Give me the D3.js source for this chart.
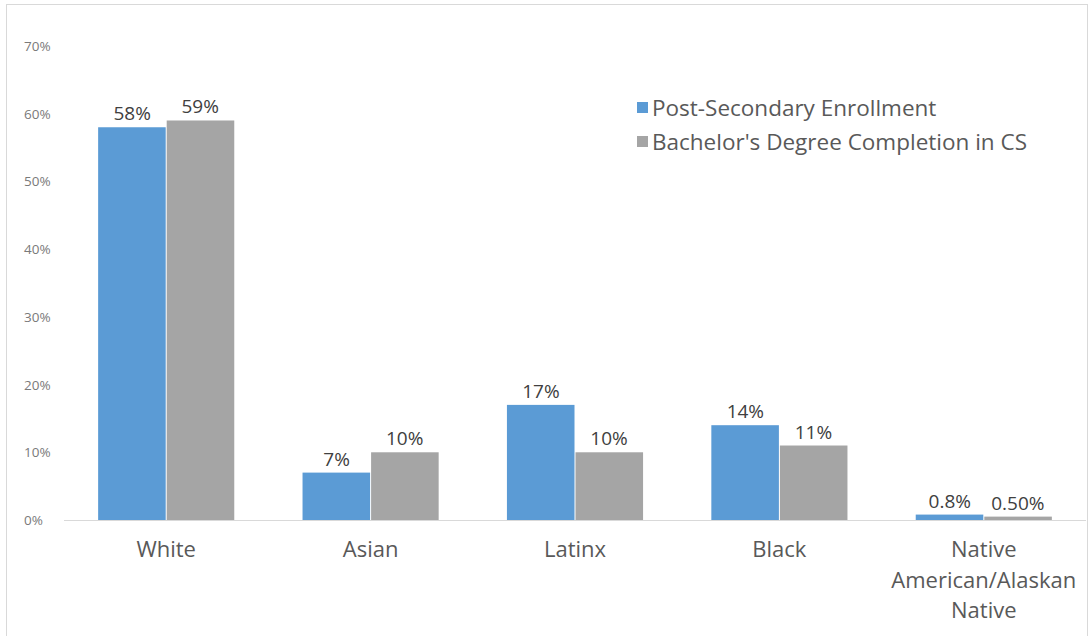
<!DOCTYPE html>
<html>
<head>
<meta charset="utf-8">
<script src="https://cdn.jsdelivr.net/npm/d3@7"></script>
<style>
  html, body { margin: 0; padding: 0; background: #fff; }
  svg { display: block; }
  text { font-family: "Open Sans", "Noto Sans", sans-serif; }
</style>
</head>
<body>
<svg id="chart" width="1090" height="636"></svg>
<script>
// Share of students by race/ethnicity
const categories = ["White", "Asian", "Latinx", "Black", "Native American/Alaskan Native"];
const categoryLines = [["White"], ["Asian"], ["Latinx"], ["Black"], ["Native", "American/Alaskan", "Native"]];
const seriesNames = ["Post-Secondary Enrollment", "Bachelor's Degree Completion in CS"];
const enrollment = [58, 7, 17, 14, 0.8];
const completion = [59, 10, 10, 11, 0.5];
const enrollmentLabels = ["58%", "7%", "17%", "14%", "0.8%"];
const completionLabels = ["59%", "10%", "10%", "11%", "0.50%"];
const yTicks = [0, 10, 20, 30, 40, 50, 60, 70];
const colors = ["#5b9bd5", "#a5a5a5"];

const svg = d3.select("#chart");

// outer frame
svg.append("rect")
  .attr("x", 6.5).attr("y", 4.5)
  .attr("width", 1081).attr("height", 640)
  .attr("fill", "#fff").attr("stroke", "#d9d9d9").attr("stroke-width", 1);

const plot = { left: 64, right: 1086, top: 46, bottom: 520 };

const x0 = d3.scaleBand().domain(categories)
  .range([plot.left, plot.right]).paddingInner(0.334).paddingOuter(0.167);
const x1 = d3.scaleBand().domain([0, 1]).range([0, x0.bandwidth()]).padding(0);
const y = d3.scaleLinear().domain([0, 70]).range([plot.bottom, plot.top]);

// y tick labels (no gridlines)
svg.append("g").selectAll("text").data(yTicks).join("text")
  .attr("x", 24).attr("y", d => y(d) + 5)
  .attr("font-size", 13.5).attr("fill", "#7a7a7a")
  .text(d => d + "%");

const series = [enrollment, completion];
const labels = [enrollmentLabels, completionLabels];

const groups = svg.append("g").selectAll("g").data(categories).join("g")
  .attr("transform", d => `translate(${x0(d)},0)`);

groups.each(function(cat, i) {
  const g = d3.select(this);
  [0, 1].forEach(s => {
    const v = series[s][i];
    g.append("rect")
      .attr("x", x1(s) + (s === 1 ? 0.5 : 0))
      .attr("y", y(v))
      .attr("width", x1.bandwidth() - 0.5)
      .attr("height", y(0) - y(v))
      .attr("fill", colors[s]);
    g.append("text")
      .attr("x", x1(s) + x1.bandwidth() / 2)
      .attr("y", y(v) - 7)
      .attr("text-anchor", "middle")
      .attr("font-size", 19).attr("fill", "#404040")
      .text(labels[s][i]);
  });
});

// category axis baseline
svg.append("line")
  .attr("x1", plot.left).attr("x2", plot.right)
  .attr("y1", plot.bottom + 0.5).attr("y2", plot.bottom + 0.5)
  .attr("stroke", "#d9d9d9").attr("stroke-width", 1);

// category labels
svg.append("g").selectAll("text").data(categories).join("text")
  .attr("x", d => x0(d) + x0.bandwidth() / 2)
  .attr("y", 557)
  .attr("text-anchor", "middle")
  .attr("font-size", 22).attr("fill", "#595959")
  .each(function(d, i) {
    const t = d3.select(this);
    categoryLines[i].forEach((line, k) => {
      t.append("tspan")
        .attr("x", x0(d) + x0.bandwidth() / 2)
        .attr("dy", k === 0 ? 0 : 30.5)
        .text(line);
    });
  });

// legend
const legend = svg.append("g").attr("transform", "translate(637,102)");
seriesNames.forEach((name, i) => {
  legend.append("rect")
    .attr("x", 0).attr("y", i * 34)
    .attr("width", 11).attr("height", 11)
    .attr("fill", colors[i]);
  legend.append("text")
    .attr("x", 15).attr("y", i * 34 + 14)
    .attr("font-size", 22.5).attr("fill", "#595959")
    .text(name);
});
</script>
</body>
</html>
